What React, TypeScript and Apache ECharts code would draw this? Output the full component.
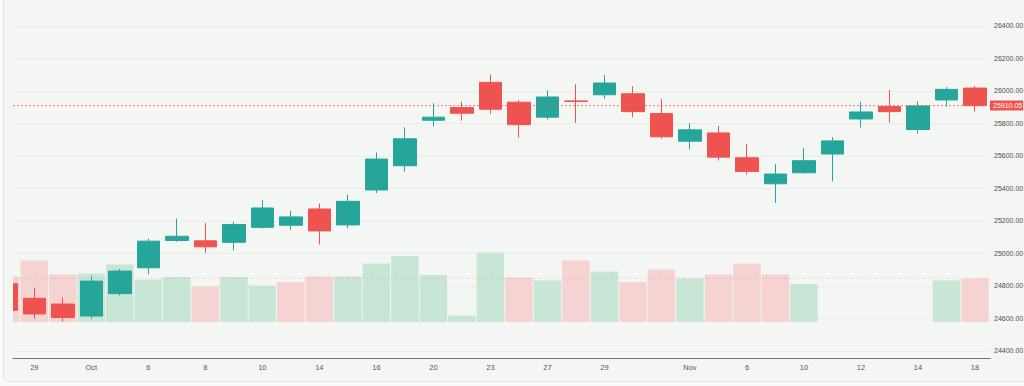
import React, { useEffect, useRef } from "react";
import * as echarts from "echarts";

// Trading days (Sep 26 is partially off the left edge)
const dates = [
  "2025-09-26", "2025-09-29", "2025-09-30", "2025-10-01", "2025-10-03",
  "2025-10-06", "2025-10-07", "2025-10-08", "2025-10-09", "2025-10-10",
  "2025-10-13", "2025-10-14", "2025-10-15", "2025-10-16", "2025-10-17",
  "2025-10-20", "2025-10-21", "2025-10-23", "2025-10-24", "2025-10-27",
  "2025-10-28", "2025-10-29", "2025-10-30", "2025-10-31", "2025-11-03",
  "2025-11-04", "2025-11-06", "2025-11-07", "2025-11-10", "2025-11-11",
  "2025-11-12", "2025-11-13", "2025-11-14", "2025-11-17", "2025-11-18",
];

const xTickLabels = [
  "", "29", "", "Oct", "", "6", "", "8", "", "10",
  "", "14", "", "16", "", "20", "", "23", "", "27",
  "", "29", "", "", "Nov", "", "6", "", "10", "",
  "12", "", "14", "", "18",
];

const opens = [
  24814, 24724, 24689, 24615, 24753, 24912, 25080, 25078, 25069, 25161,
  25174, 25274, 25176, 25391, 25540, 25820, 25898, 26053, 25931, 25839,
  25939, 25977, 25983, 25861, 25691, 25742, 25589, 25429, 25497, 25612,
  25828, 25904, 25763, 25945, 26018,
];
const highs = [
  24860, 24790, 24728, 24863, 24906, 25092, 25215, 25188, 25195, 25329,
  25264, 25307, 25362, 25622, 25777, 25925, 25933, 26102, 25945, 26004,
  26041, 26098, 26029, 25949, 25802, 25785, 25675, 25550, 25650, 25716,
  25933, 26006, 25937, 26023, 26031,
];
const lows = [
  24630, 24599, 24581, 24599, 24742, 24873, 25072, 25004, 25020, 25152,
  25147, 25055, 25155, 25372, 25503, 25783, 25818, 25859, 25714, 25824,
  25804, 25953, 25839, 25706, 25642, 25572, 25485, 25311, 25492, 25444,
  25775, 25806, 25738, 25904, 25873,
];
const closes = [
  24650, 24628, 24606, 24830, 24892, 25076, 25106, 25041, 25178, 25280,
  25225, 25139, 25321, 25581, 25706, 25839, 25863, 25888, 25793, 25963,
  25936, 26049, 25873, 25718, 25761, 25593, 25505, 25489, 25571, 25693,
  25871, 25873, 25908, 26010, 25910.05,
];

// Volume (millions); null = no bar shown
const volumes: (number | null)[] = [
  228, 308, 238, 242, 287, 213, 225, 178, 225, 182,
  200, 228, 227, 292, 330, 235, 32, 348, 222, 207,
  308, 252, 200, 262, 217, 238, 292, 238, 190, null,
  null, null, null, 207, 218,
];

const yTickValues = [
  24400, 24600, 24800, 25000, 25200, 25400, 25600, 25800, 26000, 26200, 26400,
];

const lastPrice = 25910.05;

const UP = "#26a69a";
const DOWN = "#ef5350";
const VOL_UP = "#c8e6d5";
const VOL_DOWN = "#f6d3d3";
const CARD_BG = "#f4f6f3";
const PAGE_BG = "#f8f9f8";
const BORDER = "#e1e4e1";
const FONT = "'Liberation Sans', Arial, sans-serif";

export default function App() {
  const ref = useRef<HTMLDivElement>(null);

  useEffect(() => {
    if (!ref.current) return;
    const chart = echarts.init(ref.current, null, { renderer: "svg" });

    const gridLeft = 13;
    const gridWidth = 977;
    const step = 28.506; // px per trading day
    const firstCenter = 5.8;
    const xMin = (gridLeft - firstCenter) / step;
    const xMax = xMin + gridWidth / step;
    const priceMin = 24356.9;
    const priceMax = 26560;

    const candleData = dates.map((_, i) => [i, opens[i], closes[i], lows[i], highs[i]]);

    const volumeData: any[] = [];
    volumes.forEach((v, i) => {
      if (v == null) return;
      const up = i === 0 ? closes[i] >= opens[i] : closes[i] >= closes[i - 1];
      volumeData.push({ value: [i, v], itemStyle: { color: up ? VOL_UP : VOL_DOWN } });
    });
    const lastVolume = volumes[volumes.length - 1] as number;

    const option: any = {
      animation: false,
      backgroundColor: "transparent",
      textStyle: { fontFamily: FONT },
      grid: [
        { left: gridLeft, width: gridWidth, top: 0, height: 358, outerBoundsMode: "none", containLabel: false },
        { left: gridLeft, width: gridWidth, top: 222, height: 100, outerBoundsMode: "none", containLabel: false },
      ],
      xAxis: [
        {
          type: "value",
          gridIndex: 0,
          min: xMin,
          max: xMax,
          z: 10,
          axisLine: { show: true, onZero: false, lineStyle: { color: "#6f6f86", width: 1 } },
          axisTick: { show: false },
          splitLine: { show: false },
          axisLabel: {
            customValues: xTickLabels.map((l, i) => (l ? i : -1)).filter((i) => i >= 0),
            formatter: (v: number) => xTickLabels[Math.round(v)] || "",
            color: "#555",
            fontSize: 7.5,
            fontFamily: FONT,
            margin: 5,
          },
        },
        {
          type: "value",
          gridIndex: 1,
          min: xMin,
          max: xMax,
          show: false,
        },
      ],
      yAxis: [
        {
          type: "value",
          gridIndex: 0,
          position: "right",
          min: priceMin,
          max: priceMax,
          axisLine: { show: false },
          axisTick: { show: false, customValues: yTickValues },
          splitLine: { show: true, lineStyle: { color: "#e9ece9", width: 1 } },
          axisLabel: {
            customValues: yTickValues,
            formatter: (v: number) => v.toFixed(2),
            color: "#4d4d4d",
            fontSize: 7,
            fontFamily: FONT,
            margin: 4,
          },
        },
        {
          type: "value",
          gridIndex: 1,
          min: 0,
          max: 500,
          show: false,
          splitLine: { show: false },
        },
        {
          // last-price tag on the price scale
          type: "value",
          gridIndex: 0,
          position: "right",
          min: priceMin,
          max: priceMax,
          z: 20,
          axisLine: { show: false },
          axisTick: { show: false, customValues: [lastPrice] },
          splitLine: { show: false },
          axisLabel: {
            customValues: [lastPrice],
            formatter: (v: number) => v.toFixed(2),
            color: "#ffffff",
            backgroundColor: DOWN,
            padding: [1, 1, 1, 3],
            lineHeight: 8,
            fontSize: 7,
            fontFamily: FONT,
            margin: 0,
          },
        },
      ],
      series: [
        {
          type: "bar",
          name: "Volume",
          xAxisIndex: 1,
          yAxisIndex: 1,
          z: 1,
          barWidth: 27.5,
          data: volumeData,
        },
        {
          type: "line",
          name: "Last volume",
          xAxisIndex: 1,
          yAxisIndex: 1,
          z: 2,
          symbol: "none",
          silent: true,
          lineStyle: { color: "rgba(239,83,80,0.3)", type: [1, 2], width: 1 },
          data: [[xMin, lastVolume], [xMax, lastVolume]],
        },
        {
          type: "candlestick",
          name: "Price",
          xAxisIndex: 0,
          yAxisIndex: 0,
          z: 3,
          barWidth: 23,
          encode: { x: 0, y: [1, 2, 3, 4] },
          data: candleData,
          itemStyle: {
            color: UP,
            color0: DOWN,
            borderColor: UP,
            borderColor0: DOWN,
            borderWidth: 1,
          },
        },
        {
          type: "line",
          name: "Last price",
          xAxisIndex: 0,
          yAxisIndex: 0,
          z: 4,
          symbol: "none",
          silent: true,
          lineStyle: { color: "rgba(239,83,80,0.75)", type: [2, 2], width: 1 },
          data: [[xMin, lastPrice], [xMax, lastPrice]],
        },
      ],
    };

    chart.setOption(option);
    return () => chart.dispose();
  }, []);

  return (
    <div
      style={{
        position: "fixed",
        left: 0,
        top: 0,
        width: 1024,
        height: 386,
        background: PAGE_BG,
        overflow: "hidden",
      }}
    >
      <div
        style={{
          position: "absolute",
          left: 3,
          top: -6,
          width: 1030,
          height: 388,
          background: CARD_BG,
          border: `1px solid ${BORDER}`,
          borderRadius: 6,
          boxSizing: "border-box",
        }}
      />
      <div
        ref={ref}
        style={{ position: "absolute", left: 0, top: 0, width: 1024, height: 386 }}
      />
      {/* masks for the part of the first session that lies left of the plot */}
      <div style={{ position: "absolute", left: 0, top: 0, width: 3, height: 357, background: PAGE_BG, pointerEvents: "none" }} />
      <div style={{ position: "absolute", left: 3, top: 0, width: 1, height: 357, background: BORDER, pointerEvents: "none" }} />
      <div style={{ position: "absolute", left: 4, top: 0, width: 8.7, height: 357, background: CARD_BG, pointerEvents: "none" }} />
    </div>
  );
}
